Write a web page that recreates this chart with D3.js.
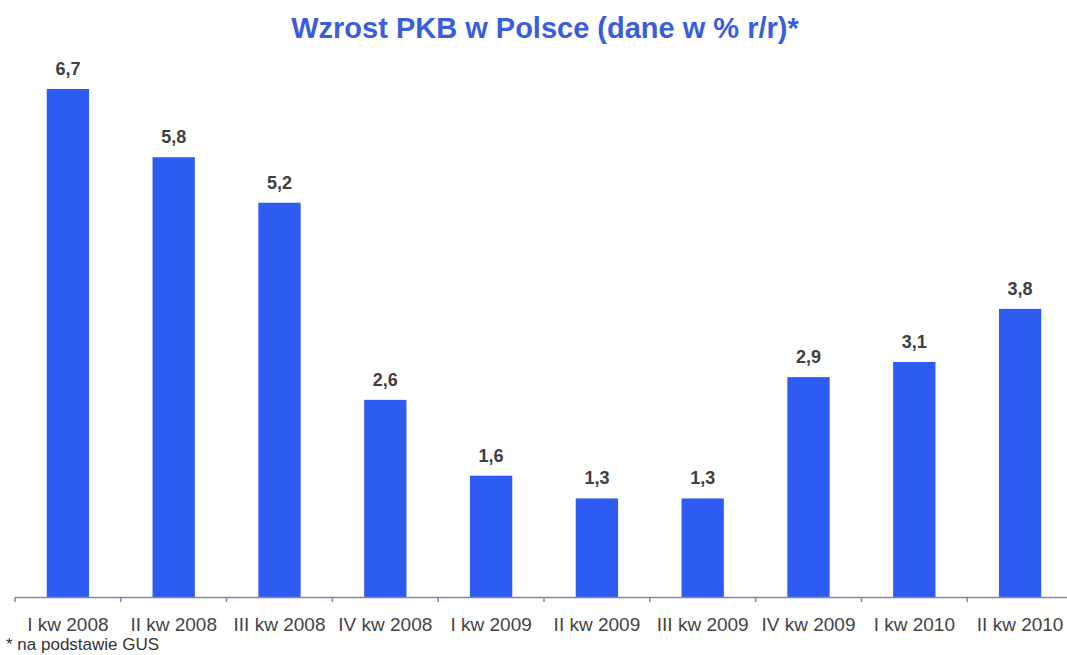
<!DOCTYPE html>
<html>
<head>
<meta charset="utf-8">
<script src="https://cdn.jsdelivr.net/npm/d3@7"></script>
<style>
body{margin:0;background:#fff;}
svg{display:block;}
</style>
</head>
<body>
<svg id="svg" width="1067" height="655"></svg>
<script>
const quarters=["I kw 2008","II kw 2008","III kw 2008","IV kw 2008","I kw 2009","II kw 2009","III kw 2009","IV kw 2009","I kw 2010","II kw 2010"];
const growth=[6.7,5.8,5.2,2.6,1.6,1.3,1.3,2.9,3.1,3.8];
const titleText="Wzrost PKB w Polsce (dane w % r/r)*";
const noteText="* na podstawie GUS";

const baseY=597;
const font="Arial, 'Liberation Sans', sans-serif";
var svg=d3.select("#svg");

var x=d3.scaleBand().domain(quarters).range([15,1073]).paddingInner(0.6).paddingOuter(0.3);
var y=d3.scaleLinear().domain([0,6.7]).range([baseY,89]);

//title
svg.append("text")
    .attr("x",545).attr("y",38)
    .attr("text-anchor","middle")
    .style("font-family",font)
    .style("font-weight","bold")
    .style("font-size","29px")
    .style("fill","#3a5edb")
    .text(titleText);

//bars
svg.selectAll("rect.bar")
    .data(growth).enter().append("rect")
        .attr("class","bar")
        .attr("x",(d,i)=>x(quarters[i]))
        .attr("y",d=>y(d))
        .attr("width",x.bandwidth())
        .attr("height",d=>baseY-y(d))
        .attr("fill","#2e5cf3");

//value labels
svg.selectAll("text.val")
    .data(growth).enter().append("text")
        .attr("class","val")
        .attr("x",(d,i)=>x(quarters[i])+x.bandwidth()/2)
        .attr("y",d=>y(d)-14)
        .attr("text-anchor","middle")
        .style("font-family",font)
        .style("font-weight","bold")
        .style("font-size","18px")
        .style("fill","#404040")
        .text(d=>d.toFixed(1).replace(".",","));

//x axis
var axis=svg.append("g")
    .attr("transform","translate(0,"+baseY+")")
    .call(d3.axisBottom(x).tickSize(0).tickPadding(21));
axis.select(".domain").attr("stroke","#7d88a8").attr("stroke-width",1.5);
axis.selectAll("text")
    .style("font-family",font)
    .style("font-size","19px")
    .style("fill","#444");

//tick marks at band edges
var step=x.step();
var edges=quarters.map((q,i)=>x(quarters[0])-x.paddingOuter()*step+i*step);
svg.selectAll("line.edge")
    .data(edges).enter().append("line")
        .attr("class","edge")
        .attr("x1",d=>d).attr("x2",d=>d)
        .attr("y1",baseY).attr("y2",baseY+5)
        .attr("stroke","#7d88a8")
        .attr("stroke-width",1.5);

//footnote
svg.append("text")
    .attr("x",6).attr("y",650)
    .style("font-family",font)
    .style("font-size","17px")
    .style("fill","#333")
    .text(noteText);
</script>
</body>
</html>
